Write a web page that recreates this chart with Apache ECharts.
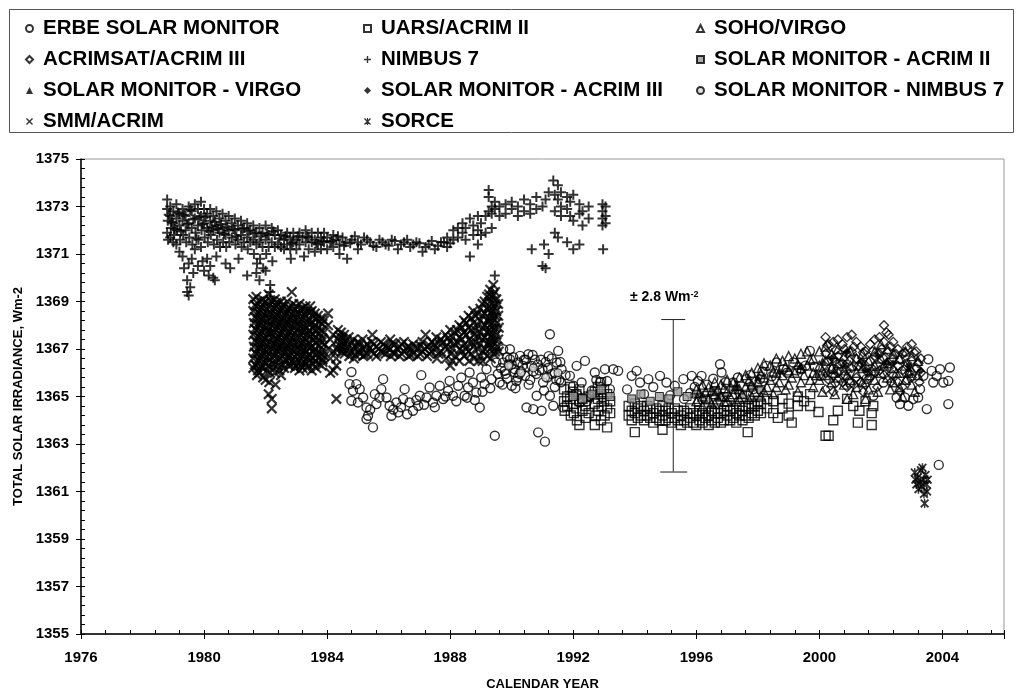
<!DOCTYPE html>
<html lang="en">
<head>
<meta charset="utf-8">
<title>Total solar irradiance</title>
<script src="https://cdn.jsdelivr.net/npm/echarts@6/dist/echarts.min.js"></script>
<style>
  html, body { margin: 0; padding: 0; background: #fff; }
  #chart { width: 1016px; height: 696px; }
</style>
</head>
<body>
<div id="chart"></div>
<script>
// axis ranges and ticks
var yearMin = 1976, yearMax = 2006, yearStep = 4;
var tsiMin = 1355, tsiMax = 1375, tsiStep = 2;

// legend columns, in the order they appear in the box
var legendCol1 = ['ERBE SOLAR MONITOR', 'ACRIMSAT/ACRIM III', 'SOLAR MONITOR - VIRGO', 'SMM/ACRIM'];
var legendCol2 = ['UARS/ACRIM II', 'NIMBUS 7', 'SOLAR MONITOR - ACRIM III', 'SORCE'];
var legendCol3 = ['SOHO/VIRGO', 'SOLAR MONITOR - ACRIM II', 'SOLAR MONITOR - NIMBUS 7'];

// [year, Wm-2]
var nimbus7 = [
  [1978.8,1373.3],[1978.8,1372.9],[1978.82,1372.4],[1978.8,1371.9],[1978.83,1371.6],
  [1978.9,1373.0],[1978.9,1372.6],[1978.92,1372.1],[1978.9,1371.7],
  [1979.0,1372.8],[1979.0,1372.3],[1979.02,1371.8],[1979.0,1371.5],
  [1979.1,1373.1],[1979.1,1372.5],[1979.12,1372.0],[1979.1,1371.4],
  [1979.2,1372.7],[1979.2,1372.2],[1979.22,1371.6],[1979.2,1371.1],
  [1979.3,1372.9],[1979.3,1372.4],[1979.32,1371.8],[1979.3,1370.9],[1979.35,1370.4],
  [1979.4,1372.6],[1979.4,1372.0],[1979.42,1371.5],[1979.45,1369.9],[1979.45,1369.4],
  [1979.5,1373.0],[1979.5,1372.3],[1979.52,1371.7],[1979.5,1370.6],[1979.55,1369.6],[1979.5,1369.25],
  [1979.6,1372.8],[1979.6,1372.1],[1979.62,1371.4],[1979.6,1370.8],[1979.65,1370.2],
  [1979.7,1373.1],[1979.7,1372.5],[1979.72,1371.9],[1979.7,1371.2],
  [1979.8,1372.9],[1979.8,1372.2],[1979.82,1371.6],[1979.8,1370.5],
  [1979.9,1373.2],[1979.9,1372.6],[1979.92,1372.0],[1979.9,1371.3],[1979.95,1370.7],
  [1980.0,1372.9],[1980.0,1372.3],[1980.02,1371.7],[1980.0,1370.3],
  [1980.1,1372.7],[1980.1,1372.1],[1980.12,1371.5],[1980.1,1370.8],[1980.15,1370.1],
  [1980.2,1372.9],[1980.2,1372.4],[1980.22,1371.8],[1980.2,1370.5],
  [1980.3,1372.6],[1980.3,1372.0],[1980.32,1371.4],[1980.3,1370.0],[1980.35,1369.9],
  [1980.4,1372.8],[1980.4,1372.2],[1980.42,1371.6],[1980.4,1370.9],
  [1980.5,1372.5],[1980.5,1371.9],[1980.52,1371.3],
  [1980.6,1372.7],[1980.6,1372.1],[1980.62,1371.5],
  [1980.7,1372.4],[1980.7,1371.8],[1980.72,1371.3],[1980.7,1370.6],
  [1980.8,1372.6],[1980.8,1372.0],[1980.82,1371.5],[1980.85,1370.4],
  [1980.9,1372.3],[1980.9,1371.7],
  [1981.0,1372.5],[1981.0,1372.0],[1981.02,1371.4],
  [1981.1,1372.2],[1981.1,1371.6],[1981.12,1370.8],
  [1981.2,1372.4],[1981.2,1371.8],[1981.22,1371.3],[1981.4,1370.1],
  [1981.3,1372.1],[1981.3,1371.5],
  [1981.4,1372.3],[1981.4,1371.7],[1981.42,1371.2],
  [1981.5,1372.0],[1981.5,1371.5],
  [1981.6,1372.2],[1981.6,1371.6],[1981.62,1371.0],
  [1981.7,1371.9],[1981.7,1371.4],[1981.72,1370.6],[1981.7,1370.2],
  [1981.8,1372.1],[1981.8,1371.5],[1981.82,1370.8],[1981.8,1369.9],
  [1981.9,1371.9],[1981.9,1371.3],[1981.92,1370.4],
  [1982.0,1372.2],[1982.0,1371.6],[1982.02,1371.0],[1982.0,1370.3],
  [1982.1,1371.8],[1982.1,1371.3],[1982.15,1369.7],[1982.15,1369.4],
  [1982.2,1372.1],[1982.2,1371.5],[1982.22,1370.7],
  [1982.3,1371.8],[1982.3,1371.3],
  [1982.4,1372.0],[1982.4,1371.4],
  [1982.5,1371.8],[1982.5,1371.3],
  [1982.6,1371.6],[1982.6,1371.2],
  [1982.7,1371.9],[1982.7,1371.4],
  [1982.8,1371.7],[1982.8,1371.2],[1982.82,1370.8],
  [1982.9,1371.9],[1982.9,1371.5],
  [1983.0,1371.6],[1983.0,1371.2],
  [1983.1,1371.9],[1983.1,1371.4],
  [1983.2,1371.7],[1983.25,1370.9],
  [1983.3,1372.0],[1983.3,1371.5],
  [1983.4,1371.7],[1983.4,1371.2],
  [1983.5,1371.9],[1983.5,1371.5],
  [1983.6,1371.6],[1983.6,1371.1],
  [1983.7,1371.9],[1983.7,1371.4],
  [1983.8,1371.7],[1983.8,1371.2],
  [1983.9,1371.9],[1983.9,1371.5],
  [1984.0,1371.7],[1984.0,1371.2],
  [1984.1,1371.5],[1984.2,1371.8],[1984.2,1371.3],[1984.3,1371.6],
  [1984.4,1371.4],[1984.4,1371.0],[1984.5,1371.7],[1984.6,1371.5],[1984.65,1370.8],
  [1984.8,1371.6],[1985.0,1371.5],[1985.0,1371.2],[1985.2,1371.7],[1985.4,1371.5],
  [1985.6,1371.3],[1985.7,1371.6],[1985.9,1371.4],[1986.1,1371.6],[1986.3,1371.2],
  [1986.5,1371.5],[1986.7,1371.3],[1986.9,1371.5],[1987.1,1371.1],[1987.3,1371.4],
  [1987.5,1371.2],[1987.7,1371.5],[1987.9,1371.3],[1987.9,1371.7],
  [1984.15,1371.55],[1984.35,1371.75],[1984.55,1371.35],[1984.75,1371.45],[1984.9,1371.75],[1985.1,1371.4],
  [1985.3,1371.6],[1985.5,1371.35],[1985.8,1371.5],[1986.0,1371.35],[1986.2,1371.55],[1986.4,1371.4],
  [1986.6,1371.6],[1986.8,1371.4],[1987.0,1371.45],[1987.2,1371.3],[1987.4,1371.55],[1987.6,1371.35],
  [1987.8,1371.5],[1988.0,1371.45],
  [1988.1,1371.6],[1988.1,1372.0],[1988.25,1371.7],[1988.25,1372.1],
  [1988.4,1371.9],[1988.4,1372.3],[1988.5,1371.6],[1988.5,1372.1],
  [1988.64,1370.9],[1988.64,1372.5],[1988.75,1371.8],[1988.75,1372.2],
  [1988.9,1371.4],[1988.9,1372.0],[1988.9,1372.6],[1989.0,1371.8],[1989.0,1372.3],
  [1989.15,1371.9],[1989.15,1372.6],
  [1989.25,1373.7],[1989.25,1373.4],[1989.25,1372.8],
  [1989.35,1373.0],[1989.35,1372.7],[1989.35,1372.1],
  [1989.45,1373.2],[1989.45,1372.9],[1989.45,1370.1],
  [1989.6,1373.0],[1989.6,1372.6],[1989.8,1373.1],[1989.8,1372.7],
  [1990.0,1372.9],[1990.0,1373.2],[1990.2,1372.6],[1990.2,1373.0],
  [1990.4,1373.3],[1990.4,1372.8],[1990.6,1373.1],[1990.65,1371.2],[1990.6,1372.7],
  [1990.8,1373.4],[1990.8,1372.9],
  [1991.0,1373.0],[1991.0,1370.5],[1991.05,1371.4],[1991.1,1370.4],[1991.1,1373.3],
  [1991.2,1371.0],[1991.2,1373.6],
  [1991.35,1374.1],[1991.4,1373.5],[1991.4,1372.8],[1991.4,1371.9],
  [1991.5,1373.9],[1991.5,1373.3],[1991.5,1371.7],
  [1991.6,1373.6],[1991.6,1373.0],[1991.6,1372.6],
  [1991.8,1373.4],[1991.8,1372.9],[1991.8,1371.5],
  [1991.9,1373.2],[1991.9,1372.6],
  [1992.0,1373.5],[1992.0,1372.4],[1992.0,1371.2],
  [1992.2,1373.1],[1992.2,1372.7],[1992.2,1371.4],
  [1992.3,1372.8],[1992.3,1372.2],[1992.5,1373.0],[1992.5,1372.5],
  [1992.95,1373.1],[1992.95,1372.8],[1992.95,1372.5],[1992.95,1372.2],[1992.97,1371.2],
  [1993.05,1373.0],[1993.05,1372.6],[1993.05,1372.3],
  [1978.85,1372.65],[1978.95,1372.35],[1979.05,1372.05],[1979.15,1372.75],[1979.25,1371.95],
  [1979.35,1372.65],[1979.45,1372.25],[1979.55,1372.85],[1979.65,1372.45],[1979.75,1371.65],
  [1979.85,1372.55],[1979.95,1372.25],[1980.05,1372.55],[1980.15,1371.95],[1980.25,1372.15],
  [1980.35,1372.35],[1980.45,1372.05],[1980.55,1372.25],[1980.65,1371.85],[1980.75,1372.15],
  [1980.95,1372.05],[1981.05,1371.75],[1981.25,1372.05],[1981.45,1371.95],[1981.65,1371.85],
  [1981.85,1371.75],[1982.05,1371.85],[1982.25,1371.95],[1982.45,1371.65],[1982.65,1371.75],
  [1982.85,1371.45],[1983.05,1371.75],[1983.35,1371.75],[1983.65,1371.45],[1983.85,1371.55]
];

var smmAcrim = [
  [1981.6,1369.1],[1981.6,1368.6],[1981.62,1368.1],[1981.6,1367.6],[1981.62,1367.1],[1981.6,1366.6],[1981.6,1366.2],
  [1981.7,1369.2],[1981.7,1368.8],[1981.72,1368.3],[1981.7,1367.8],[1981.72,1367.3],[1981.7,1366.8],[1981.7,1366.3],[1981.72,1365.9],
  [1981.8,1369.0],[1981.8,1368.5],[1981.82,1368.0],[1981.8,1367.5],[1981.82,1367.0],[1981.8,1366.5],[1981.8,1366.0],
  [1981.9,1369.1],[1981.9,1368.7],[1981.92,1368.2],[1981.9,1367.7],[1981.92,1367.2],[1981.9,1366.7],[1981.9,1366.2],[1981.92,1365.8],
  [1982.0,1369.0],[1982.0,1368.4],[1982.02,1367.9],[1982.0,1367.4],[1982.02,1366.9],[1982.0,1366.4],[1982.0,1365.7],
  [1982.1,1369.3],[1982.1,1368.8],[1982.12,1368.3],[1982.1,1367.8],[1982.12,1367.3],[1982.1,1366.8],[1982.1,1366.3],[1982.12,1365.6],[1982.1,1365.1],
  [1982.2,1369.0],[1982.2,1368.5],[1982.22,1368.0],[1982.2,1367.5],[1982.22,1367.0],[1982.2,1366.4],[1982.2,1364.9],[1982.2,1364.5],
  [1982.3,1369.1],[1982.3,1368.7],[1982.32,1368.2],[1982.3,1367.7],[1982.32,1367.2],[1982.3,1366.7],[1982.3,1366.0],[1982.32,1365.5],
  [1982.4,1368.9],[1982.4,1368.4],[1982.42,1367.9],[1982.4,1367.4],[1982.42,1366.9],[1982.4,1366.3],
  [1982.5,1369.0],[1982.5,1368.6],[1982.52,1368.1],[1982.5,1367.6],[1982.52,1367.1],[1982.5,1366.6],[1982.5,1365.9],
  [1982.6,1368.8],[1982.6,1368.3],[1982.62,1367.8],[1982.6,1367.3],[1982.62,1366.8],[1982.6,1366.2],
  [1982.7,1369.0],[1982.7,1368.5],[1982.72,1368.0],[1982.7,1367.5],[1982.72,1367.0],[1982.7,1366.5],
  [1982.85,1369.4],[1982.8,1368.7],[1982.82,1368.2],[1982.8,1367.7],[1982.82,1367.2],[1982.8,1366.7],[1982.8,1366.3],
  [1982.9,1368.9],[1982.9,1368.4],[1982.92,1367.9],[1982.9,1367.4],[1982.92,1366.9],[1982.9,1366.4],
  [1983.0,1368.8],[1983.0,1368.3],[1983.02,1367.8],[1983.0,1367.3],[1983.02,1366.8],[1983.0,1366.3],
  [1983.1,1368.9],[1983.1,1368.5],[1983.12,1368.0],[1983.1,1367.5],[1983.12,1367.0],[1983.1,1366.5],[1983.1,1366.1],
  [1983.2,1368.7],[1983.2,1368.2],[1983.22,1367.7],[1983.2,1367.2],[1983.22,1366.7],[1983.2,1366.2],
  [1983.3,1368.8],[1983.3,1368.4],[1983.32,1367.9],[1983.3,1367.4],[1983.32,1366.9],[1983.3,1366.4],
  [1983.45,1368.8],[1983.4,1368.3],[1983.42,1367.8],[1983.4,1367.3],[1983.42,1366.8],[1983.4,1366.3],
  [1983.5,1368.6],[1983.5,1368.1],[1983.52,1367.6],[1983.5,1367.1],[1983.52,1366.6],[1983.5,1366.1],
  [1983.6,1368.5],[1983.6,1368.0],[1983.62,1367.5],[1983.6,1367.0],[1983.62,1366.5],
  [1983.7,1368.4],[1983.7,1367.9],[1983.72,1367.4],[1983.7,1366.9],[1983.72,1366.4],
  [1983.8,1368.3],[1983.8,1367.8],[1983.82,1367.3],[1983.8,1366.8],[1983.82,1366.3],
  [1983.9,1368.2],[1983.9,1367.7],[1983.92,1367.2],[1983.9,1366.7],
  [1981.65,1368.85],[1981.75,1368.05],[1981.85,1367.25],[1981.95,1366.45],[1982.05,1368.65],[1982.15,1367.65],
  [1982.25,1366.75],[1982.35,1368.45],[1982.45,1367.15],[1982.55,1368.35],[1982.65,1367.05],[1982.75,1368.25],
  [1982.85,1366.95],[1982.95,1368.15],[1983.05,1367.05],[1983.15,1368.25],[1983.25,1366.95],[1983.35,1368.15],
  [1983.45,1367.05],[1983.55,1367.85],[1983.65,1366.75],[1983.75,1367.65],[1983.85,1366.55],
  [1981.65,1368.35],[1981.65,1367.85],[1981.65,1367.35],[1981.65,1366.85],[1981.65,1366.35],
  [1981.75,1368.55],[1981.75,1367.55],[1981.75,1367.05],[1981.75,1366.55],[1981.75,1366.1],
  [1981.85,1368.75],[1981.85,1368.25],[1981.85,1367.75],[1981.85,1366.75],[1981.85,1366.25],
  [1981.95,1368.95],[1981.95,1368.45],[1981.95,1367.95],[1981.95,1367.45],[1981.95,1366.95],
  [1982.05,1368.15],[1982.05,1367.65],[1982.05,1367.15],[1982.05,1366.65],[1982.05,1366.1],
  [1982.15,1369.05],[1982.15,1368.55],[1982.15,1368.05],[1982.15,1367.05],[1982.15,1366.55],[1982.15,1366.0],
  [1982.25,1368.75],[1982.25,1368.25],[1982.25,1367.75],[1982.25,1367.25],[1982.25,1366.2],
  [1982.35,1368.95],[1982.35,1367.95],[1982.35,1367.45],[1982.35,1366.95],[1982.35,1366.45],
  [1982.45,1368.65],[1982.45,1368.15],[1982.45,1367.65],[1982.45,1366.6],[1982.45,1366.1],
  [1982.55,1368.85],[1982.55,1367.85],[1982.55,1367.35],[1982.55,1366.85],[1982.55,1366.35],
  [1982.65,1368.55],[1982.65,1368.05],[1982.65,1367.55],[1982.65,1366.55],
  [1982.75,1368.75],[1982.75,1367.75],[1982.75,1367.25],[1982.75,1366.75],[1982.75,1366.3],
  [1982.85,1368.45],[1982.85,1367.95],[1982.85,1367.45],[1982.85,1366.5],
  [1982.95,1368.65],[1982.95,1367.65],[1982.95,1367.15],[1982.95,1366.65],[1982.95,1366.2],
  [1983.05,1368.55],[1983.05,1368.05],[1983.05,1367.55],[1983.05,1366.55],
  [1983.15,1368.7],[1983.15,1367.75],[1983.15,1367.25],[1983.15,1366.75],[1983.15,1366.3],
  [1983.25,1368.45],[1983.25,1367.95],[1983.25,1367.45],[1983.25,1366.45],
  [1983.35,1368.6],[1983.35,1367.65],[1983.35,1367.15],[1983.35,1366.65],[1983.35,1366.2],
  [1983.45,1368.55],[1983.45,1368.05],[1983.45,1367.55],[1983.45,1366.55],
  [1983.55,1368.35],[1983.55,1367.35],[1983.55,1366.85],[1983.55,1366.35],
  [1983.65,1368.25],[1983.65,1367.75],[1983.65,1367.25],[1983.65,1366.2],
  [1983.75,1368.15],[1983.75,1367.15],[1983.75,1366.65],
  [1983.85,1368.05],[1983.85,1367.45],[1983.85,1366.95],[1983.85,1366.45],
  [1984.03,1368.5],[1984.03,1368.0],[1984.03,1367.0],
  [1984.1,1366.0],[1984.1,1366.6],[1984.1,1367.4],
  [1984.2,1366.1],[1984.2,1366.9],[1984.2,1367.6],
  [1984.3,1364.9],[1984.3,1366.3],[1984.3,1366.6],[1984.3,1367.0],
  [1984.35,1367.8],[1984.35,1367.4],[1984.37,1367.0],
  [1984.45,1367.7],[1984.45,1367.3],[1984.47,1366.9],
  [1984.55,1367.6],[1984.55,1367.2],[1984.57,1366.8],
  [1984.7,1367.5],[1984.7,1367.1],[1984.72,1366.7],
  [1984.85,1367.4],[1984.85,1367.0],[1984.87,1366.6],
  [1985.0,1367.3],[1985.0,1366.9],
  [1985.15,1367.4],[1985.15,1367.0],[1985.17,1366.7],
  [1985.3,1367.2],[1985.3,1366.8],
  [1985.45,1367.3],[1985.45,1366.9],[1985.47,1367.6],
  [1985.6,1367.1],[1985.6,1366.7],
  [1985.75,1367.3],[1985.75,1366.9],
  [1985.9,1367.1],[1985.9,1366.8],
  [1986.05,1367.4],[1986.05,1367.0],[1986.07,1366.7],
  [1986.2,1367.2],[1986.2,1366.8],
  [1986.35,1367.1],[1986.35,1366.7],
  [1986.5,1367.3],[1986.5,1366.9],
  [1986.65,1367.1],[1986.65,1366.7],
  [1986.8,1367.2],[1986.8,1366.8],
  [1986.95,1367.0],[1986.95,1366.7],
  [1987.1,1367.3],[1987.1,1366.9],[1987.2,1367.6],
  [1987.25,1367.1],[1987.25,1366.7],
  [1987.4,1367.3],[1987.4,1366.9],
  [1987.55,1367.5],[1987.55,1367.0],[1987.57,1366.6],
  [1987.7,1367.4],[1987.7,1366.9],
  [1987.85,1367.6],[1987.85,1367.1],[1987.87,1366.6],
  [1988.0,1367.8],[1988.0,1367.3],[1988.02,1366.8],[1988.0,1366.3],
  [1988.15,1367.7],[1988.15,1367.2],[1988.17,1366.7],
  [1988.3,1368.0],[1988.3,1367.5],[1988.32,1367.0],[1988.3,1366.5],
  [1988.45,1368.2],[1988.45,1367.7],[1988.47,1367.2],[1988.45,1366.7],
  [1988.6,1368.4],[1988.6,1367.9],[1988.62,1367.4],[1988.6,1366.9],[1988.62,1366.5],
  [1988.75,1368.6],[1988.75,1368.1],[1988.77,1367.6],[1988.75,1367.1],[1988.77,1366.6],
  [1988.9,1368.5],[1988.9,1368.0],[1988.92,1367.5],[1988.9,1367.0],[1988.92,1366.5],
  [1989.05,1368.9],[1989.05,1368.4],[1989.07,1367.9],[1989.05,1367.4],[1989.07,1366.9],[1989.05,1366.5],
  [1989.2,1369.2],[1989.2,1368.7],[1989.22,1368.2],[1989.2,1367.7],[1989.22,1367.2],[1989.2,1366.7],
  [1989.3,1369.5],[1989.3,1369.0],[1989.32,1368.5],[1989.3,1368.0],[1989.32,1367.5],[1989.3,1367.0],[1989.32,1366.6],
  [1989.4,1369.7],[1989.4,1369.3],[1989.42,1368.8],[1989.4,1368.3],[1989.42,1367.8],[1989.4,1367.3],[1989.42,1366.8],
  [1989.5,1369.1],[1989.5,1368.6],[1989.52,1368.1],[1989.5,1367.6],[1989.52,1367.1],
  [1989.56,1368.9],[1989.56,1368.4],[1989.58,1367.9],[1989.56,1367.4],[1989.58,1366.9],
  [1984.4,1367.55],[1984.4,1367.15],[1984.5,1367.45],[1984.5,1367.05],[1984.62,1367.35],[1984.62,1366.95],
  [1984.78,1367.25],[1984.78,1366.85],[1984.92,1367.15],[1984.92,1366.75],[1985.08,1367.2],[1985.08,1366.8],
  [1985.22,1367.1],[1985.22,1366.75],[1985.38,1367.05],[1985.52,1367.2],[1985.52,1366.8],[1985.68,1367.0],
  [1985.82,1367.2],[1985.82,1366.85],[1985.98,1367.05],[1986.12,1367.25],[1986.12,1366.85],[1986.28,1367.0],
  [1986.42,1367.2],[1986.42,1366.8],[1986.58,1367.05],[1986.72,1367.0],[1986.72,1366.75],[1986.88,1367.1],
  [1987.02,1367.15],[1987.02,1366.8],[1987.18,1367.0],[1987.32,1367.15],[1987.32,1366.8],[1987.48,1367.2],
  [1987.62,1367.25],[1987.62,1366.8],[1987.78,1367.3],[1987.92,1367.45],[1987.92,1367.0],
  [1988.08,1367.5],[1988.08,1367.0],[1988.08,1366.5],[1988.22,1367.8],[1988.22,1367.3],
  [1988.38,1367.9],[1988.38,1367.4],[1988.38,1366.9],[1988.52,1368.1],[1988.52,1367.6],[1988.52,1367.0],
  [1988.68,1368.3],[1988.68,1367.8],[1988.68,1367.3],[1988.68,1366.8],[1988.82,1368.4],[1988.82,1367.8],[1988.82,1367.3],
  [1988.98,1368.7],[1988.98,1368.2],[1988.98,1367.7],[1988.98,1367.2],[1988.98,1366.7],
  [1989.12,1369.0],[1989.12,1368.5],[1989.12,1368.0],[1989.12,1367.5],[1989.12,1367.0],
  [1989.26,1369.3],[1989.26,1368.8],[1989.26,1368.3],[1989.26,1367.8],[1989.26,1367.3],
  [1989.36,1369.2],[1989.36,1368.6],[1989.36,1368.1],[1989.36,1367.6],[1989.36,1367.1],
  [1989.46,1369.4],[1989.46,1368.9],[1989.46,1368.4],[1989.46,1367.9],[1989.46,1367.4],[1989.46,1366.9]
];

var erbe = [
  [1984.79,1366.03],[1984.73,1365.52],[1984.95,1365.52],[1984.84,1365.24],[1985.06,1365.31],[1984.79,1364.82],
  [1985.17,1364.96],[1985.28,1364.54],[1985.33,1364.19],[1985.28,1364.05],[1985.49,1363.70],[1985.55,1365.10],
  [1985.60,1364.68],[1985.82,1365.73],[1985.76,1365.31],[1985.93,1364.96],[1986.03,1364.61],[1986.09,1364.19],
  [1986.31,1364.33],[1986.25,1364.75],[1986.52,1365.31],[1986.47,1364.89],[1986.68,1364.75],[1986.79,1364.40],
  [1986.96,1364.61],[1987.06,1365.90],[1987.01,1365.03],[1987.23,1364.96],[1987.33,1365.38],[1987.44,1364.75],
  [1987.55,1365.03],[1987.66,1365.45],[1987.77,1364.89],[1987.93,1365.24],[1987.98,1365.66],[1988.09,1365.03],
  [1988.26,1365.45],[1988.36,1365.80],[1988.47,1365.03],[1988.58,1365.38],[1988.63,1366.01],[1988.74,1365.59],
  [1988.96,1364.54],[1988.85,1365.17],[1989.01,1365.80],[1989.12,1365.52],[1989.18,1366.15],[1989.34,1365.73],
  [1985.0,1364.75],[1985.4,1364.45],[1985.7,1364.95],[1986.15,1364.45],[1986.4,1364.55],[1986.6,1364.25],
  [1986.9,1364.85],[1987.15,1364.65],[1987.5,1364.55],[1987.85,1365.0],[1988.2,1364.8],[1988.55,1364.95],
  [1988.8,1364.85],[1989.05,1365.2],[1989.3,1365.35],
  [1989.45,1363.35],[1989.50,1366.43],[1989.61,1365.59],[1989.72,1366.99],[1989.77,1366.08],[1989.94,1366.57],
  [1990.10,1366.01],[1990.21,1366.43],[1989.72,1366.43],[1989.94,1366.99],[1990.10,1366.15],[1990.27,1366.71],
  [1990.43,1365.87],[1990.54,1366.78],[1990.65,1366.29],[1990.48,1364.54],[1990.70,1364.47],[1990.97,1364.40],
  [1990.81,1365.03],[1991.02,1365.59],[1991.24,1367.62],[1991.24,1365.03],[1991.35,1364.61],[1991.46,1366.43],
  [1991.51,1366.92],[1991.62,1366.15],[1991.67,1364.54],[1990.86,1363.49],[1991.08,1363.10],
  [1989.85,1365.75],[1990.0,1365.45],[1990.2,1365.80],[1990.35,1366.30],[1990.6,1365.70],[1990.75,1366.55],
  [1990.9,1366.10],[1991.1,1366.45],[1991.3,1365.95],[1991.4,1365.40],[1991.55,1365.70],[1991.75,1365.90],
  [1989.65,1366.20],[1989.8,1365.95],[1989.9,1366.35],[1990.05,1366.65],[1990.15,1365.65],[1990.3,1366.05],
  [1990.4,1366.55],[1990.5,1366.25],[1990.7,1366.05],[1990.85,1366.35],[1991.0,1366.15],[1991.15,1365.80],
  [1991.2,1366.70],[1991.4,1366.00],[1991.6,1365.60],
  [1989.55,1365.95],[1989.7,1365.5],[1989.85,1366.65],[1990.0,1366.35],[1990.12,1365.35],[1990.25,1365.95],
  [1990.45,1366.55],[1990.55,1365.5],[1990.68,1366.75],[1990.8,1365.95],[1990.95,1366.55],[1991.05,1365.25],
  [1991.18,1366.2],[1991.3,1366.6],[1991.45,1365.7],[1991.58,1366.45],
  [1991.89,1365.87],[1992.11,1366.29],[1992.27,1365.59],[1992.38,1366.50],[1992.54,1365.03],[1992.70,1366.01],
  [1992.87,1365.59],[1993.03,1366.15],[1993.19,1365.31],[1993.30,1366.15],[1993.46,1366.08],[1993.90,1365.87],
  [1994.06,1366.08],[1994.17,1365.59],[1994.44,1365.73],[1994.82,1365.87],[1995.03,1365.59],[1995.30,1365.45],
  [1995.58,1365.73],[1995.85,1365.87],[1996.17,1365.87],[1996.77,1366.36],[1996.82,1366.01],[1997.20,1365.59],
  [1997.63,1365.73],[1997.85,1365.31],[1998.07,1365.73],[1998.28,1366.29],[1998.61,1366.43],[1998.83,1366.15],
  [1999.15,1366.43],[1999.42,1366.15],[1999.69,1366.92],[2000.02,1365.87],[2000.45,1366.15],[2000.99,1365.59],
  [2001.53,1365.73],[2001.75,1365.03],[2002.08,1365.59],[2002.51,1364.96],[2002.62,1364.68],[2002.78,1364.96],
  [2002.89,1364.61],[2003.05,1364.89],[2003.21,1364.96],[2003.49,1364.47],[2003.54,1366.57],[2003.70,1365.59],
  [2003.81,1365.87],[2003.92,1366.15],[2004.03,1365.59],[2004.19,1364.68],[2004.24,1366.22],[2004.19,1365.66],
  [2003.65,1366.08],[2003.38,1365.87],[2003.27,1365.31],[2003.88,1362.12],
  [1993.75,1365.30],[1994.3,1365.10],[1994.6,1365.40],[1995.15,1365.05],[1992.45,1364.80],[1992.15,1365.05],
  [1992.0,1365.45],[1992.2,1364.75],[1992.6,1365.25],[1992.75,1365.70],[1992.95,1364.95],[1993.1,1365.65],
  [1995.6,1364.9],[1995.8,1365.15],[1995.95,1365.4],[1996.05,1365.65],[1996.35,1365.5],[1996.55,1365.75],
  [1996.95,1365.6],[1997.35,1365.8],[1997.75,1365.9],[1998.15,1366.05],[1998.45,1365.85],[1998.95,1366.0],
  [1999.25,1366.1],[1999.55,1366.3],[1999.85,1366.25]
];

var uarsAcrim2 = [
  [1991.7,1365.3],[1991.7,1364.8],[1991.72,1364.4],[1991.8,1365.0],[1991.8,1364.6],
  [1991.9,1365.4],[1991.9,1364.9],[1991.92,1364.2],[1992.0,1365.2],[1992.0,1364.7],[1992.02,1364.3],
  [1992.1,1365.1],[1992.1,1364.5],[1992.12,1364.0],[1992.2,1365.3],[1992.2,1364.8],[1992.2,1363.8],
  [1992.3,1364.9],[1992.3,1364.4],[1992.4,1364.6],[1992.4,1364.1],[1992.5,1365.0],[1992.5,1364.3],
  [1992.7,1365.2],[1992.7,1364.7],[1992.72,1364.2],[1992.7,1363.8],[1992.8,1365.4],[1992.8,1364.9],[1992.82,1364.4],
  [1992.9,1365.6],[1992.9,1365.1],[1992.92,1364.6],[1992.9,1364.0],[1993.0,1365.3],[1993.0,1364.8],[1993.02,1364.2],
  [1993.1,1365.1],[1993.1,1364.5],[1993.1,1363.7],[1993.2,1364.8],[1993.2,1364.3],
  [1993.8,1364.6],[1993.8,1364.2],[1993.9,1364.4],[1993.9,1364.0],[1994.0,1364.7],[1994.0,1364.3],[1994.0,1363.5],
  [1994.1,1364.5],[1994.1,1364.1],[1994.2,1364.6],[1994.2,1364.2],[1994.3,1364.4],[1994.3,1364.0],
  [1994.4,1364.6],[1994.4,1364.2],[1994.5,1364.5],[1994.5,1364.1],[1994.6,1364.3],[1994.6,1363.9],
  [1994.7,1364.5],[1994.7,1364.1],[1994.8,1364.4],[1994.8,1364.0],[1994.9,1364.6],[1994.9,1364.2],[1994.9,1363.6],
  [1995.0,1364.4],[1995.0,1364.0],[1995.1,1364.5],[1995.1,1364.1],[1995.2,1364.3],[1995.2,1363.9],
  [1995.3,1364.5],[1995.3,1364.1],[1995.4,1364.4],[1995.4,1364.0],[1995.5,1364.2],[1995.5,1363.8],
  [1995.6,1364.4],[1995.6,1364.0],[1995.7,1364.3],[1995.7,1363.9],[1995.8,1364.5],[1995.8,1364.1],
  [1995.9,1364.3],[1995.9,1363.9],[1996.0,1364.2],[1996.0,1363.8],[1996.1,1364.4],[1996.1,1364.0],
  [1996.2,1364.3],[1996.2,1363.9],[1996.3,1364.5],[1996.3,1364.1],[1996.4,1364.2],[1996.4,1363.8],
  [1996.5,1364.4],[1996.5,1364.0],[1996.6,1364.3],[1996.6,1363.9],[1996.7,1364.5],[1996.7,1364.1],
  [1996.8,1364.3],[1996.8,1363.9],[1996.9,1364.4],[1996.9,1364.0],[1997.0,1364.6],[1997.0,1364.2],
  [1997.1,1364.4],[1997.1,1364.0],[1997.2,1364.5],[1997.2,1364.1],[1997.3,1364.3],[1997.3,1363.9],
  [1997.4,1364.6],[1997.4,1364.2],[1997.5,1364.4],[1997.5,1364.0],[1997.6,1364.6],[1997.6,1364.2],
  [1997.7,1364.5],[1997.7,1364.1],[1997.67,1363.5],[1997.8,1364.7],[1997.8,1364.3],
  [1997.9,1364.6],[1997.9,1364.2],[1998.0,1364.8],[1998.0,1364.4],[1998.1,1364.7],[1998.1,1364.3],
  [1998.3,1364.9],[1998.3,1364.5],[1998.5,1364.8],[1998.5,1364.3],[1998.65,1364.1],
  [1998.8,1364.9],[1998.8,1364.5],[1999.0,1364.7],[1999.0,1364.2],[1999.1,1363.9],
  [1999.3,1365.0],[1999.3,1364.6],[1999.5,1364.8],[1999.7,1365.1],[1999.7,1364.6],[1999.97,1364.35],
  [2000.2,1363.35],[2000.3,1363.35],[2000.45,1364.0],[2000.6,1364.4],[2000.9,1364.9],[2001.1,1364.6],
  [2001.25,1363.9],[2001.3,1364.4],[2001.5,1364.8],[2001.7,1363.8],[2001.7,1364.3],[2001.75,1364.6]
];

var sohoVirgo = [
  [1996.0,1365.3],[1996.0,1364.8],[1996.2,1365.5],[1996.2,1365.0],[1996.2,1364.6],[1996.4,1365.4],[1996.4,1364.9],
  [1996.6,1365.6],[1996.6,1365.1],[1996.6,1364.7],[1996.8,1365.5],[1996.8,1365.0],[1997.0,1365.7],[1997.0,1365.2],[1997.0,1364.8],
  [1997.2,1365.6],[1997.2,1365.1],[1997.4,1365.8],[1997.4,1365.3],[1997.4,1364.9],[1997.6,1365.9],[1997.6,1365.4],
  [1997.8,1366.0],[1997.8,1365.5],[1997.8,1365.0],[1998.0,1366.2],[1998.0,1365.6],[1998.2,1366.4],[1998.2,1365.8],[1998.2,1365.2],
  [1998.4,1366.3],[1998.4,1365.7],[1998.6,1366.6],[1998.6,1366.0],[1998.6,1365.4],[1998.8,1366.5],[1998.8,1365.9],
  [1999.0,1366.7],[1999.0,1366.1],[1999.0,1365.5],[1999.2,1366.6],[1999.2,1366.0],[1999.4,1366.8],[1999.4,1366.2],[1999.4,1365.6],
  [1999.6,1366.9],[1999.6,1366.3],[1999.8,1366.6],[1999.8,1366.0],[1999.8,1365.4],
  [2000.0,1366.9],[2000.0,1366.3],[2000.0,1365.7],[2000.2,1367.1],[2000.2,1366.5],[2000.2,1365.9],
  [2000.4,1366.8],[2000.4,1366.2],[2000.4,1365.6],[2000.6,1367.0],[2000.6,1366.4],[2000.6,1365.8],
  [2000.8,1366.7],[2000.8,1366.1],[2000.8,1365.5],[2001.0,1366.9],[2001.0,1366.3],[2001.0,1365.7],
  [2001.2,1366.6],[2001.2,1366.0],[2001.2,1365.4],[2001.4,1366.8],[2001.4,1366.2],[2001.4,1365.6],
  [2001.6,1366.5],[2001.6,1365.9],[2001.6,1365.3],[2001.8,1366.9],[2001.8,1366.3],[2001.8,1365.7],
  [2002.0,1367.2],[2002.0,1366.6],[2002.0,1366.0],[2002.2,1367.0],[2002.2,1366.4],[2002.2,1365.8],
  [2002.4,1366.8],[2002.4,1366.2],[2002.4,1365.6],[2002.6,1366.6],[2002.6,1366.0],[2002.6,1365.4],
  [2002.8,1366.9],[2002.8,1366.3],[2002.8,1365.7],[2003.0,1366.7],[2003.0,1366.1],[2003.0,1365.5],
  [2003.2,1366.5],[2003.2,1365.9],
  [1996.1,1365.15],[1996.5,1365.25],[1996.9,1365.35],[1997.3,1365.45],[1997.7,1365.65],[1998.1,1365.95],
  [1998.5,1366.05],[1998.9,1366.25],[1999.3,1366.35],[1999.7,1366.55],[2000.1,1366.1],[2000.5,1366.0],
  [2000.9,1365.9],[2001.3,1366.3],[2001.7,1366.1],[2002.1,1366.3],[2002.5,1366.0],[2002.9,1366.0],
  [1996.05,1364.9],[1996.3,1365.2],[1996.5,1364.7],[1996.7,1365.3],[1996.9,1364.8],[1997.1,1365.0],
  [1997.3,1364.8],[1997.5,1365.1],[1997.7,1364.9],[1997.9,1365.2],[1998.1,1365.0],[1998.3,1365.4],
  [1998.5,1365.1],[1998.7,1365.6],[1998.9,1365.3],[1999.1,1365.8],[1999.3,1365.2],[1999.5,1365.9],
  [1999.7,1365.7],[1999.9,1365.9],
  [2000.1,1365.2],[2000.5,1365.1],[2000.9,1364.9],[2001.1,1365.1],[2001.5,1364.9],[2001.9,1365.2],
  [2002.3,1365.3],[2002.7,1365.0],[2003.1,1365.2]
];

var acrimsat3 = [
  [2000.2,1367.5],[2000.2,1366.8],[2000.2,1366.0],[2000.2,1365.3],[2000.3,1367.2],[2000.3,1366.5],[2000.3,1365.7],
  [2000.45,1367.3],[2000.45,1366.6],[2000.45,1365.9],[2000.45,1365.2],[2000.6,1367.4],[2000.6,1366.7],[2000.6,1366.0],
  [2000.75,1367.2],[2000.75,1366.4],[2000.75,1365.6],[2000.9,1367.5],[2000.9,1366.8],[2000.9,1366.1],[2000.9,1365.4],
  [2001.05,1367.6],[2001.05,1366.9],[2001.05,1366.2],[2001.2,1367.3],[2001.2,1366.6],[2001.2,1365.8],
  [2001.35,1367.1],[2001.35,1366.4],[2001.35,1365.6],[2001.5,1366.9],[2001.5,1366.2],[2001.5,1365.5],
  [2001.65,1367.2],[2001.65,1366.5],[2001.65,1365.8],[2001.8,1367.4],[2001.8,1366.7],[2001.8,1366.0],
  [2001.95,1367.5],[2001.95,1366.8],[2001.95,1366.1],[2002.1,1368.0],[2002.1,1367.3],[2002.1,1366.6],[2002.1,1365.9],
  [2002.25,1367.6],[2002.25,1366.9],[2002.25,1366.2],[2002.4,1367.3],[2002.4,1366.6],[2002.4,1365.9],
  [2002.55,1367.0],[2002.55,1366.3],[2002.55,1365.6],[2002.7,1366.8],[2002.7,1366.1],[2002.7,1365.4],
  [2002.85,1367.1],[2002.85,1366.4],[2002.85,1365.7],[2003.0,1367.2],[2003.0,1366.5],[2003.0,1365.8],
  [2003.15,1366.9],[2003.15,1366.2],[2003.3,1366.6],[2003.3,1366.0],
  [2000.25,1367.15],[2000.38,1366.25],[2000.52,1366.95],[2000.52,1365.55],[2000.68,1366.35],[2000.82,1367.0],
  [2000.82,1365.9],[2000.98,1366.5],[2001.12,1367.1],[2001.12,1365.5],[2001.28,1366.3],[2001.42,1366.85],
  [2001.42,1365.2],[2001.58,1366.0],[2001.72,1366.9],[2001.88,1366.35],[2001.88,1365.4],[2002.02,1367.0],
  [2002.18,1367.7],[2002.18,1366.4],[2002.32,1367.1],[2002.32,1365.6],[2002.48,1366.8],[2002.62,1366.55],
  [2002.62,1365.2],[2002.78,1366.85],[2002.92,1366.0],[2003.08,1366.85],[2003.22,1366.4],[2003.25,1365.6]
];

var sorce = [
  [2003.1,1361.8],[2003.12,1361.5],[2003.15,1361.3],[2003.2,1361.6],[2003.22,1361.1],[2003.28,1361.4],
  [2003.3,1361.9],[2003.33,1361.2],[2003.38,1361.5],[2003.4,1360.9],[2003.42,1360.5],[2003.45,1361.7],
  [2003.48,1361.3],[2003.5,1361.0],[2003.52,1361.5],[2003.35,1362.0]
];

var smAcrim2 = [
  [1992.0,1365.0],[1992.3,1364.9],[1992.6,1365.1],[1992.9,1365.3],[1993.2,1365.0],[1993.9,1364.9],[1994.2,1365.1],
  [1994.5,1364.8],[1994.8,1365.0],[1995.1,1364.9],[1995.4,1365.2],[1995.7,1365.0],[1996.0,1365.1],[1996.3,1364.9],
  [1996.6,1365.2],[1996.9,1365.0],[1997.2,1365.3],[1997.5,1365.1],[1997.8,1365.4],[1998.1,1365.3]
];
var smVirgo = [
  [1996.7,1365.0],[1997.3,1365.4],[1998.0,1365.8],[1998.7,1366.1],[1999.4,1366.3],[2000.1,1366.5],
  [2000.8,1366.4],[2001.5,1366.2],[2002.2,1366.5],[2002.9,1366.2]
];
var smAcrim3 = [
  [2000.4,1366.6],[2000.9,1366.9],[2001.4,1366.5],[2001.9,1366.7],[2002.4,1366.4],[2002.9,1366.3],[2003.3,1366.1]
];
var smNimbus7 = [
  [1989.9,1366.3],[1990.3,1366.0],[1990.7,1366.2],[1991.1,1365.8],[1991.5,1366.0]
];

// the +/- 2.8 bar: [year, low, high]
var errBar = [[1995.25, 1361.82, 1368.24]];

var plusPath = 'path://M4,0h2v4h4v2h-4v4h-2v-4h-4v-2h4z';
var crossPath = 'path://M0,1.4L1.4,0L5,3.6L8.6,0L10,1.4L6.4,5L10,8.6L8.6,10L5,6.4L1.4,10L0,8.6L3.6,5Z';
var starPath = 'path://M0,1.4L1.4,0L5,3.6L8.6,0L10,1.4L6.4,5L10,8.6L8.6,10L5,6.4L1.4,10L0,8.6L3.6,5Z M4.2,0h1.6v10h-1.6z';

var FONT = '"Liberation Sans", Arial, sans-serif';
var hollow = { color: 'rgba(0,0,0,0)', borderColor: '#000', borderWidth: 1.4 };

function scatter(name, data, symbol, size, style) {
  return {
    name: name, type: 'scatter', data: data, symbol: symbol, symbolSize: size,
    itemStyle: style, emphasis: { disabled: true }, silent: true
  };
}

function legendColumn(names, left) {
  return {
    data: names, orient: 'vertical', left: left, top: 13, itemGap: 10,
    itemWidth: 7, itemHeight: 7, selectedMode: false,
    textStyle: { fontFamily: FONT, fontWeight: 'bold', fontSize: 20.5, lineHeight: 21, color: '#000', padding: [0, 0, 0, 5] }
  };
}

function plainNumber(v) { return String(v); }

var axisText = { fontFamily: FONT, fontWeight: 'bold', fontSize: 15, color: '#000', formatter: plainNumber };

var chart = echarts.init(document.getElementById('chart'), null, { renderer: 'canvas' });
chart.setOption({
  animation: false,
  backgroundColor: '#fff',
  graphic: [{
    type: 'rect', left: 9, top: 9, z: -1,
    shape: { width: 1004, height: 123 },
    style: { fill: '#fff', stroke: '#555', lineWidth: 1 }
  }],
  legend: [legendColumn(legendCol1, 20), legendColumn(legendCol2, 358), legendColumn(legendCol3, 691)],
  grid: { left: 81, right: 12, top: 159, bottom: 60, show: true, borderColor: '#999', borderWidth: 1 },
  xAxis: [{
    type: 'value', min: yearMin, max: yearMax, interval: yearStep,
    name: 'CALENDAR YEAR', nameLocation: 'middle', nameGap: 44,
    nameTextStyle: { fontFamily: FONT, fontWeight: 'bold', fontSize: 13, color: '#000' },
    axisLine: { lineStyle: { color: '#000', width: 1.5 } },
    axisTick: { inside: true, length: 4, lineStyle: { color: '#000' } },
    minorTick: { show: true, splitNumber: 5, length: 4, lineStyle: { color: '#000' } },
    axisLabel: Object.assign({ margin: 16, showMaxLabel: false }, axisText),
    splitLine: { show: false }
  }, {
    type: 'value', min: yearMin, max: yearMax, interval: yearStep, position: 'bottom',
    axisLine: { show: false }, axisLabel: { show: false }, splitLine: { show: false },
    axisTick: { length: 5, lineStyle: { color: '#000' } }
  }],
  yAxis: [{
    type: 'value', min: tsiMin, max: tsiMax, interval: tsiStep,
    name: 'TOTAL SOLAR IRRADIANCE, Wm-2', nameLocation: 'middle', nameGap: 54,
    nameTextStyle: { fontFamily: FONT, fontWeight: 'bold', fontSize: 13, color: '#000' },
    axisLine: { lineStyle: { color: '#000', width: 1.5 } },
    axisTick: { inside: true, length: 4, lineStyle: { color: '#000' } },
    minorTick: { show: true, splitNumber: 5, length: 4, lineStyle: { color: '#000' } },
    axisLabel: Object.assign({ margin: 12 }, axisText),
    splitLine: { show: false }
  }, {
    type: 'value', min: tsiMin, max: tsiMax, interval: tsiStep, position: 'left',
    axisLine: { show: false }, axisLabel: { show: false }, splitLine: { show: false },
    axisTick: { length: 5, lineStyle: { color: '#000' } }
  }],
  series: [
    scatter('NIMBUS 7', nimbus7, plusPath, 10, { color: '#000' }),
    scatter('SMM/ACRIM', smmAcrim, crossPath, 11, { color: '#000' }),
    scatter('ERBE SOLAR MONITOR', erbe, 'circle', 9, hollow),
    scatter('SOLAR MONITOR - NIMBUS 7', smNimbus7, 'circle', 8, { color: '#d8d8d8', borderColor: '#000', borderWidth: 1 }),
    scatter('UARS/ACRIM II', uarsAcrim2, 'rect', 9, hollow),
    scatter('SOLAR MONITOR - ACRIM II', smAcrim2, 'rect', 8, { color: '#999', borderColor: '#000', borderWidth: 1 }),
    scatter('SOHO/VIRGO', sohoVirgo, 'triangle', 9, hollow),
    scatter('SOLAR MONITOR - VIRGO', smVirgo, 'triangle', 8, { color: '#000' }),
    scatter('ACRIMSAT/ACRIM III', acrimsat3, 'diamond', 9, hollow),
    scatter('SOLAR MONITOR - ACRIM III', smAcrim3, 'diamond', 8, { color: '#000' }),
    scatter('SORCE', sorce, starPath, 9, { color: '#000' }),
    {
      type: 'custom', name: 'error bar', data: errBar, silent: true, z: 5,
      renderItem: function (params, api) {
        var hi = api.coord([api.value(0), api.value(2)]);
        var lo = api.coord([api.value(0), api.value(1)]);
        var ls = { stroke: '#222', lineWidth: 1 };
        return {
          type: 'group',
          children: [
            { type: 'line', shape: { x1: hi[0], y1: hi[1], x2: lo[0], y2: lo[1] }, style: ls },
            { type: 'line', shape: { x1: hi[0] - 12, y1: hi[1], x2: hi[0] + 12, y2: hi[1] }, style: ls },
            { type: 'line', shape: { x1: lo[0] - 13, y1: lo[1], x2: lo[0] + 14, y2: lo[1] }, style: { stroke: '#666', lineWidth: 1.5 } },
            {
              type: 'text', x: hi[0] - 9, y: hi[1] - 22,
              style: {
                text: '{m|\u00b1 2.8 Wm}{s|-2}', align: 'center', verticalAlign: 'middle',
                rich: {
                  m: { fontFamily: FONT, fontWeight: 'bold', fontSize: 14, fill: '#000', lineHeight: 16 },
                  s: { fontFamily: FONT, fontWeight: 'bold', fontSize: 9, fill: '#000', verticalAlign: 'top', lineHeight: 16 }
                }
              }
            }
          ]
        };
      }
    }
  ]
});
</script>
</body>
</html>
